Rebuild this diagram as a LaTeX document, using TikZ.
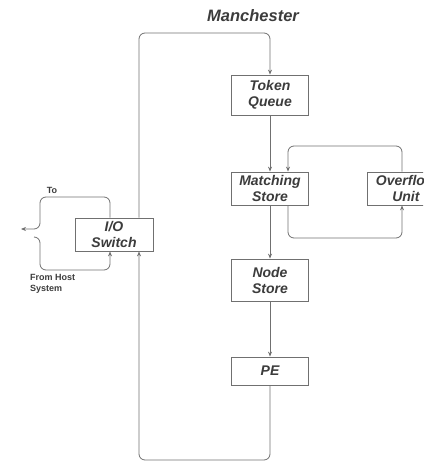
\documentclass[tikz,border=0pt]{standalone}
\usepackage{fontspec}
\setmainfont{Liberation Sans}
\usetikzlibrary{arrows.meta}
\definecolor{ink}{HTML}{3C3C3C}
\definecolor{wire}{HTML}{707070}
\tikzset{
  unit/.style={draw=wire, line width=0.8pt, fill=white, minimum width=77pt,
    align=center, text=ink, font=\fontsize{14}{16}\selectfont\bfseries\itshape},
  wireline/.style={draw=wire, line width=0.8pt, rounded corners=6pt},
  tip/.style={-{Stealth[length=5pt,width=4pt]}},
  note/.style={text=ink, font=\fontsize{9}{11}\selectfont\bfseries, align=left}
}
\begin{document}
\begin{tikzpicture}[x=1pt,y=-1pt]
\useasboundingbox (0,0) rectangle (423,462);
\clip (0,0) rectangle (423,462);

% title
\node[text=ink, font=\fontsize{16.5}{18}\selectfont\bfseries\itshape] (title) at (253,16) {Manchester};

% processing ring
\node[unit, minimum height=40pt] (tq) at (270,95) {Token\\Queue};
\node[unit, minimum height=33pt] (ms) at (270,188.5) {Matching\\Store};
\node[unit, minimum height=33pt, anchor=west] (of) at (367,188.5) {Overflow\\Unit};
\node[unit, minimum height=42pt] (ns) at (270,280) {Node\\Store};
\node[unit, minimum height=28pt] (pe) at (270,371) {PE};
\node[unit, minimum height=33pt, minimum width=78pt] (io) at (114,234.5) {I/O\\Switch};

% routing points
\coordinate (ringL) at (139,33);
\coordinate (ringB) at (139,460);
\coordinate (ofTop) at (402,146);
\coordinate (msIn) at (288,146);
\coordinate (ofBot) at (402,238);
\coordinate (msOut) at (288,238);
\coordinate (hostX) at (110,0);
\coordinate (toTop) at (40,197);
\coordinate (toEnd) at (21,229);
\coordinate (fromBot) at (40,270);
\coordinate (fromEnd) at (34,237);

% main pipeline
\draw[wireline, tip] (io.north -| ringL) -- (ringL) -| (tq.north);
\draw[wireline, tip] (tq.south) -- (ms.north);
\draw[wireline, tip] (ms.south) -- (ns.north);
\draw[wireline, tip] (ns.south) -- (pe.north);
\draw[wireline, tip] (pe.south) |- (ringB) -- (io.south -| ringB);

% overflow loop
\draw[wireline, tip] (of.north -| ofTop) -- (ofTop) -- (msIn) -- (ms.north -| msIn);
\draw[wireline, tip] (ms.south -| msOut) -- (msOut) -- (ofBot) -- (of.south -| ofBot);

% host connection
\draw[wireline, tip] (io.north -| hostX) |- (toTop) -- (toTop |- toEnd) -- (toEnd);
\draw[wireline, tip] (fromEnd) -- (fromEnd -| fromBot) -- (fromBot) -| (io.south -| hostX);

\node[note] (tolbl) at (52,190) {To};
\node[note, anchor=north west, inner sep=0pt] (hostlbl) at (30,274) {From Host\\System};
\end{tikzpicture}
\end{document}
